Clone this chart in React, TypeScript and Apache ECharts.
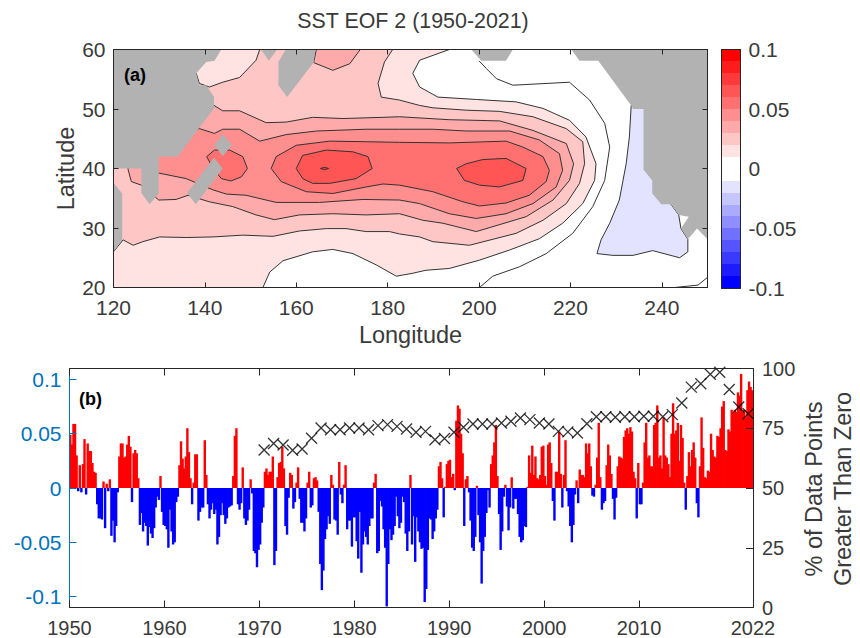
import React, { useEffect, useRef } from "react";
import * as echarts from "echarts";

const FONT = "Liberation Sans, Arial, sans-serif";
const INK = "#262626";
const TEXT_INK = "#3A3A3A";
const AXIS_BLUE = "#0072BD";

const title = "SST EOF 2 (1950-2021)";
const percentAxisTitle = "% of Data Points\nGreater Than Zero";
const lonTicks = [120, 140, 160, 180, 200, 220, 240];
const latTicks = [20, 30, 40, 50, 60];
const yearTicks = [1950, 1960, 1970, 1980, 1990, 2000, 2010, 2022];
const pcTicks = [-0.1, -0.05, 0, 0.05, 0.1];
const percentTicks = [0, 25, 50, 75, 100];

// Filled contour outlines, [longitude, latitude]
const level001 = [[120,20],[152.7,20],[154.2,22.6],[157.1,24.5],[163.6,26],[168,26.4],[172.4,25.7],[177.5,23.8],[181.9,21.9],[185.5,22.4],[188.4,22.9],[193.5,23.2],[200.1,24.6],[206.7,26.3],[213.2,28.2],[218.3,30.8],[222.7,34.1],[225.3,38],[225.6,40.8],[223.4,45.3],[219.8,48.1],[214,50.1],[208.1,51.2],[199.4,51.6],[191,52],[187,53.7],[185.5,56],[187,58.2],[193.5,60],[120,60]];
const level002 = [[120,26],[122.1,28],[124.3,27.1],[126.4,27.7],[130.1,28.5],[135.9,28.4],[141.8,28.5],[148.3,28.8],[154.9,28.6],[160.7,29.5],[166.6,29.9],[170.9,29.9],[175.3,29.4],[180.4,29.4],[182.6,29],[187,28.5],[189.9,27.7],[197.9,27.1],[208.1,29.1],[214,31.3],[219.1,34.1],[222,37.5],[223.1,40.8],[222.7,44.5],[219.1,46.7],[211.8,48.7],[204.5,49.6],[197.2,49.8],[189.9,50.2],[187,50.6],[182.6,51.5],[178.6,52],[177.9,54.3],[179.3,57.9],[181.1,60],[152,60],[151.2,58.2],[147.6,55.3],[143.9,54.5],[141,53.7],[138.8,54.3],[138.1,56],[120,56]];
const level003 = [[142,50.6],[143.9,49.7],[147.6,49.7],[153.4,47.7],[157.8,47.8],[163.6,48.6],[170.2,48.4],[179,48.6],[182.6,48.7],[193.5,48.2],[204.5,48],[211.8,46.4],[219.1,44.2],[220.7,40.8],[219.8,38],[216.2,34.7],[210.3,31.9],[199.4,29.4],[192.1,30.8],[187.7,31.3],[182.6,32.4],[175.3,32.2],[168,32.4],[160.7,32.2],[155.2,31.4],[151.2,32.2],[146.1,33.6],[141,34.4],[136.3,35.5],[133.7,34.8],[129.9,34.7],[126.1,37.2],[123.9,37.8],[123.2,39.8],[123.2,45]];
const level003North = [[164.4,60],[163.8,57.8],[168,56.5],[171.7,57.6],[174,60]];
const level004 = [[138.8,46.7],[142.1,45.9],[143.9,46.6],[147.6,46.6],[152,44.6],[157.8,45.7],[164.4,46.3],[175.3,46.6],[182.6,46.6],[189.9,46.6],[197.2,46.3],[206.7,46.3],[213.2,44.8],[217.6,42.5],[218.3,39.7],[216.9,36.9],[211.8,34.1],[205.9,32.4],[199.4,31.6],[193.5,32.4],[187,34.1],[182.6,34.7],[174.6,34.8],[165.1,34.3],[155.6,34.3],[149,35.5],[144.7,35.7],[141.8,36.4],[135.9,38.3],[130.1,39.2],[129.5,39.2],[129,45]];
const level005 = [[154.5,40],[155.6,42],[160,43.9],[167.3,44.6],[175.3,44.5],[182.6,44.4],[193.5,44.3],[205.9,44.6],[209.6,43.6],[214,42],[215.4,39.7],[214.7,37.8],[211,35.5],[205.9,34.2],[200.1,33.7],[196.5,34.4],[189.9,36.1],[182.6,37.2],[179,37.4],[175.3,36.9],[168,35.8],[162.2,36.1],[156.7,37.8]];
const level005West = [[140.4,42],[142.1,43.1],[145.4,43.1],[148.3,42],[149.3,40],[148,38.6],[145.7,37.9],[143.6,38.3],[141.8,40]];
const level006West = [[160,40],[161.4,42.2],[166.6,43.1],[172.4,42.8],[175.7,42],[176.6,40],[173.1,38.3],[167.3,37.5],[163.6,37.5],[161.4,38.3]];
const level006East = [[195.1,40],[197.2,40.8],[200.8,41.5],[205.9,41.7],[210.3,40],[209.6,38],[204.5,36.9],[200.1,37.2],[196.8,38]];
const level007 = [[165.3,40],[166.2,40.2],[167.1,40],[166.2,39.8]];
const levelMinus001 = [[233.3,50.6],[232.9,45.3],[232.2,40.8],[230.7,34.7],[228.6,30.8],[226.7,28],[225.8,25.7],[229.3,25.4],[233.7,25.4],[238,26.2],[243.9,25],[245.7,26],[245.7,28.1],[244.2,29.9],[243.7,32.2],[242,34],[240,40],[238,50]];

// Unfilled contours
const levelZero = [[200.1,20],[203,21.9],[208.9,23.5],[214.7,25.7],[220.5,29.1],[224.9,33.6],[227.5,38],[228.6,43.6],[227.5,47.6],[224.2,51.5],[219.8,54.5],[207.4,54],[203.8,55.1],[201.6,56.8],[200,58.1]];
const levelZeroCorner = [[242.8,20],[247.9,20.4],[250,21.7]];

// Land masks
const landAsia = [[120,60],[143.6,60],[142.1,58.1],[140.3,57.9],[138.1,56],[138.8,54],[140.3,54],[142,52],[142,50.1],[138.8,46.9],[134.1,42],[129.9,42],[129.9,35.8],[127.9,34],[126.1,35.9],[126.1,40],[120,40]];
const landPhilippines = [[120,37.6],[121.9,35.8],[121.9,28],[120,26]];
const landDiamond = [[143.9,45.8],[145.9,43.9],[143.9,42.1],[142.1,43.9]];
const landBar = [[142,41.8],[143.9,40],[138,34],[136.1,35.9]];
const landTopSmall = [[152.3,60],[155.8,60],[154,58.1]];
const landKamchatka = [[157.7,60],[164.2,60],[163.8,57.8],[158,52],[156.1,54],[156.1,57.9]];
const landAlaska = [[198.3,60],[200.5,58.1],[205.9,58.1],[207.4,60]];
const landAmerica = [[220.2,60],[222,58.1],[226.1,58.1],[233.3,50.6],[233.7,50],[236,50],[236,39.8],[237.9,38],[237.9,35.8],[239.9,34],[242,34],[243.7,32.2],[245.9,31.9],[244.2,29.9],[245.7,28.1],[247.7,29.9],[250,28.1],[250,60]];

const colorEdges = [-0.1,-0.09,-0.08,-0.07,-0.06,-0.05,-0.04,-0.03,-0.02,-0.01,0,0.01,0.02,0.03,0.04,0.05,0.06,0.07,0.08,0.09];
const colorSteps = ["#0000FF","#1C1CFF","#3939FF","#5555FF","#7171FF","#8E8EFF","#AAAAFF","#C6C6FF","#E3E3FF","#FFFFFF","#FFFFFF","#FFE3E3","#FFC6C6","#FFAAAA","#FF8E8E","#FF7171","#FF5555","#FF3939","#FF1C1C","#FF0000"];

const contourFills = [
  { ring: level001, fill: "#FFE3E3" },
  { ring: level002, fill: "#FFC6C6" },
  { ring: level003, fill: "#FFAAAA" },
  { ring: level003North, fill: "#FFAAAA" },
  { ring: level004, fill: "#FF8E8E" },
  { ring: level005, fill: "#FF7171" },
  { ring: level005West, fill: "#FF7171" },
  { ring: level006West, fill: "#FF5555" },
  { ring: level006East, fill: "#FF5555" },
  { ring: level007, fill: "#FF3939" },
  { ring: levelMinus001, fill: "#E3E3FF" },
];
const contourLines = [levelZero, levelZeroCorner];
const landRings = [landAsia, landPhilippines, landDiamond, landBar, landTopSmall, landKamchatka, landAlaska, landAmerica];

const pcStartYear = 1950;
const pcBinsPerYear = 6;
// PC time series in thousandths, six values per year from 1950 to 2021
const pcMilli = [
  49,40,59,59,30,-3, 21,-4,22,45,-6,41, 34,34,23,15,14,-15, -28,-28,-29,6,-37,4,
  -3,8,-44,-30,-50,-35, -4,29,41,41,28,29, 40,48,38,-13,32,35, 32,9,-34,-23,-40,-32,
  -35,-53,-36,-42,-46,-37, -18,-8,-11,11,-22,-34, -35,-38,-55,-20,-40,-52, -50,-13,-8,21,43,27,
  18,29,55,33,9,-15, 5,31,31,-30,-22,-18, -18,44,12,-15,-28,-20, -14,-24,-20,-52,-45,-25,
  -14,-25,-33,-28,-18,-17, -16,11,48,55,-15,-20, -14,19,-28,-34,-30,-20, 8,-5,-58,-60,-73,-57,
  -52,-32,-18,15,18,12, 15,15,29,-71,-58,10, 23,24,38,18,-35,-43, -9,14,12,-19,-13,5,
  19,-10,-32,-32,-40,-28, 5,15,-18,-16,9,10, 7,-22,-70,-94,-76,-47, -38,-26,-33,12,3,-29,
  -30,-43,24,-6,-14,3, 21,-38,-30,-30,-54,-27, -27,-49,-65,-22,-78,-52, -40,-45,-52,-35,-28,-28,
  5,13,-60,-58,-12,-17, -38,-55,-109,-70,-38,-48, -43,-35,-8,-26,-37,-32, -8,-13,-42,-58,-40,12,
  -52,-26,-68,-27,-40,-50, -56,-55,-105,-93,-57,-28, -29,-47,-40,-28,-20,20, 24,9,-27,1,22,25,
  26,10,13,-2,62,76, 73,50,32,-35,8,11, -4,-30,-55,-58,-45,2, -25,-50,-88,-58,-45,-23,
  -2,-18,22,30,42,58, 11,-24,-57,-40,-8,3, -17,-39,-18,10,-19,-10, -10,-24,-45,-50,-48,-35,
  -36,1,30,14,39,12, 29,9,8,12,38,39, 11,3,40,42,23,-12, -30,15,15,52,13,-18,
  12,44,-3,-17,-35,-50, -34,-6,7,-14,17,12, 12,10,41,32,41,20, -7,-8,3,28,60,10,
  -20,-14,-12,21,40,30, 13,-10,-29,-9,20,29, 28,27,47,53,55,50, 56,52,15,9,-28,23,
  -15,-15,5,42,60,28, 30,20,20,58,60,76, 28,30,18,65,30,28, 22,10,50,78,50,53,
  60,25,58,46,5,-20, 11,33,20,35,42,28, -14,-27,20,65,37,10, 9,16,15,50,35,29,
  28,48,47,55,75,80, 35,34,54,52,72,70, 72,70,88,85,105,70, 72,65,90,98,93,90,
];

const percentStartYear = 1970.5;
const percentAboveZero = [
  65.9,68.6,68,65.8,66.3,70.8,75.1,74.4,74.4,75.1,75.1,74.4,76.1,76.5,75.8,74.7,73.3,73.7,70.2,70.7,
  73.3,75.4,76.8,76.8,76.8,77.2,77.9,79.3,78.6,77.2,76.8,73.7,73.5,73,76.9,79.8,79.8,79.6,79.8,79.8,
  80,80,79.8,80.7,85.6,92.2,93.6,97.6,98.4,91.2,83.9,81.1,
];

const polygonSeries = (name: string, rings: number[][][], xAxisIndex: number, yAxisIndex: number, styleOf: (i: number) => any, z: number) => ({
  type: "custom", name, xAxisIndex, yAxisIndex, z, silent: true, clip: true,
  data: rings.map((_, i) => i),
  renderItem: (params: any, api: any) => ({
    type: "polygon",
    shape: { points: rings[params.dataIndex].map((p) => api.coord(p)) },
    style: styleOf(params.dataIndex),
  }),
});

const frameLine = (color = INK) => ({ show: true, onZero: false, lineStyle: { color, width: 1 } });
const frameAxis = (common: any) => ({ axisLine: frameLine(), axisTick: { inside: true, length: 5, lineStyle: { color: INK, width: 1 } }, axisLabel: { show: false }, splitLine: { show: false }, z: 10, ...common });
const tickFont = { color: TEXT_INK, fontSize: 21, lineHeight: 16, fontFamily: FONT };
const nameFont = { color: TEXT_INK, fontSize: 23.5, fontFamily: FONT };
const plainTick = (length: number, customValues: number[], color = INK) => ({ inside: true, length, lineStyle: { color }, customValues });
const noBounds = { outerBoundsMode: "none" };

export default function App() {
  const ref = useRef<HTMLDivElement>(null);
  useEffect(() => {
    const chart = echarts.init(ref.current!, undefined, { renderer: "svg" });
    const lonAxis = { type: "value", min: 120, max: 250, gridIndex: 0 };
    const yearAxis = { type: "value", min: 1950, max: 2022, gridIndex: 1 };
    chart.setOption({
      animation: false,
      backgroundColor: "#fff",
      textStyle: { fontFamily: FONT },
      title: { text: title, left: 408, top: 5, textAlign: "center", textStyle: { color: TEXT_INK, fontSize: 21.4, fontWeight: "normal", fontFamily: FONT } },
      grid: [
        { left: 113.5, top: 49.5, width: 594, height: 238, ...noBounds },
        { left: 69.5, top: 368.5, width: 683.5, height: 239, ...noBounds },
        { left: 721.5, top: 49.5, width: 19, height: 238.5, ...noBounds },
      ],
      xAxis: [
        frameAxis({ ...lonAxis, position: "bottom", name: "Longitude", nameLocation: "middle", nameGap: 35, nameTextStyle: nameFont,
          axisTick: plainTick(5, lonTicks),
          axisLabel: { show: true, margin: 12, customValues: lonTicks, ...tickFont } }),
        frameAxis({ ...lonAxis, position: "top", axisTick: plainTick(5, lonTicks) }),
        frameAxis({ ...yearAxis, position: "bottom", axisTick: plainTick(7, yearTicks),
          axisLabel: { show: true, margin: 12, customValues: yearTicks, formatter: (v: number) => String(v), ...tickFont, fontSize: 20 } }),
        frameAxis({ ...yearAxis, position: "top", axisTick: plainTick(7, yearTicks) }),
        { type: "category", gridIndex: 2, data: ["scale"], position: "bottom", axisLine: frameLine(), axisTick: { show: false }, axisLabel: { show: false }, z: 10 },
        { type: "category", gridIndex: 2, data: ["scale"], position: "top", axisLine: frameLine(), axisTick: { show: false }, axisLabel: { show: false }, z: 10 },
      ],
      yAxis: [
        frameAxis({ type: "value", gridIndex: 0, min: 20, max: 60, interval: 10, position: "left", name: "Latitude", nameLocation: "middle", nameGap: 36, nameMoveOverlap: false, nameTextStyle: nameFont,
          axisTick: plainTick(5, latTicks),
          axisLabel: { show: true, margin: 8, customValues: latTicks, ...tickFont } }),
        frameAxis({ type: "value", gridIndex: 0, min: 20, max: 60, interval: 10, position: "right", axisTick: plainTick(5, latTicks) }),
        frameAxis({ type: "value", gridIndex: 1, min: -0.11, max: 0.11, position: "left",
          axisLine: frameLine(AXIS_BLUE),
          axisTick: plainTick(7, pcTicks, AXIS_BLUE),
          axisLabel: { show: true, margin: 8, customValues: pcTicks, formatter: (v: number) => String(v), ...tickFont, color: AXIS_BLUE } }),
        frameAxis({ type: "value", gridIndex: 1, min: 0, max: 100, interval: 25, position: "right",
          axisTick: plainTick(7, percentTicks),
          axisLabel: { show: true, margin: 9, customValues: percentTicks, ...tickFont, fontSize: 20 } }),
        frameAxis({ type: "value", gridIndex: 2, min: -0.1, max: 0.1, interval: 0.05, position: "right",
          axisTick: { inside: true, length: 3, lineStyle: { color: INK } },
          axisLabel: { show: true, margin: 8, ...tickFont } }),
        { type: "value", gridIndex: 2, min: -0.1, max: 0.1, position: "left", axisLine: frameLine(), axisTick: { show: false }, axisLabel: { show: false }, splitLine: { show: false }, z: 10 },
      ],
      series: [
        polygonSeries("contours", contourFills.map((c) => c.ring), 0, 0, (i) => ({ fill: contourFills[i].fill, stroke: "#333", lineWidth: 1 }), 2),
        ...contourLines.map((line, i) => ({ type: "line", name: `zero contour ${i}`, xAxisIndex: 0, yAxisIndex: 0, data: line, symbol: "none", z: 3, silent: true, lineStyle: { color: "#333", width: 1 } })),
        polygonSeries("land", landRings, 0, 0, () => ({ fill: "#B2B2B2" }), 4),
        {
          type: "custom", name: "colorbar", xAxisIndex: 4, yAxisIndex: 4, z: 2, silent: true,
          data: colorEdges.map((_, i) => i),
          renderItem: (params: any, api: any) => {
            const lo = colorEdges[params.dataIndex];
            const a = api.coord([0, lo]);
            const b = api.coord([0, lo + 0.01]);
            const size = api.size([1, 0]);
            const top = Math.round(b[1]);
            return { type: "rect", shape: { x: a[0] - size[0] / 2, y: top, width: size[0], height: Math.round(a[1]) - top }, style: { fill: colorSteps[params.dataIndex] } };
          },
        },
        {
          type: "bar", name: "EOF 2 PC", xAxisIndex: 2, yAxisIndex: 2, barWidth: 2.4, z: 2, silent: true,
          data: pcMilli.map((m, i) => ({
            value: [pcStartYear + (i + 0.5) / pcBinsPerYear, m / 1000],
            itemStyle: { color: m >= 0 ? "#FF0000" : "#0000FF" },
          })),
        },
        {
          type: "scatter", name: "% greater than zero", xAxisIndex: 3, yAxisIndex: 3, z: 3, silent: true,
          symbol: "path://M0 0L10 10M10 0L0 10", symbolSize: 11,
          itemStyle: { color: "none", borderColor: "#000", borderWidth: 1.3 },
          data: percentAboveZero.map((p, i) => [percentStartYear + i, p]),
        },
      ],
      graphic: [
        { type: "text", left: 124, top: 66, z: 20, style: { text: "(a)", fill: "#000", font: `bold 18px ${FONT}` } },
        { type: "text", left: 79, top: 390, z: 20, style: { text: "(b)", fill: "#000", font: `bold 18px ${FONT}` } },
        { type: "text", x: 828.5, y: 489, rotation: Math.PI / 2, z: 20, style: { text: percentAxisTitle, fill: TEXT_INK, font: `23.5px ${FONT}`, lineHeight: 29, textAlign: "center", textVerticalAlign: "middle" } },
      ],
    });
    return () => chart.dispose();
  }, []);
  return <div ref={ref} style={{ position: "fixed", left: 0, top: 0, width: 860, height: 638 }} />;
}
